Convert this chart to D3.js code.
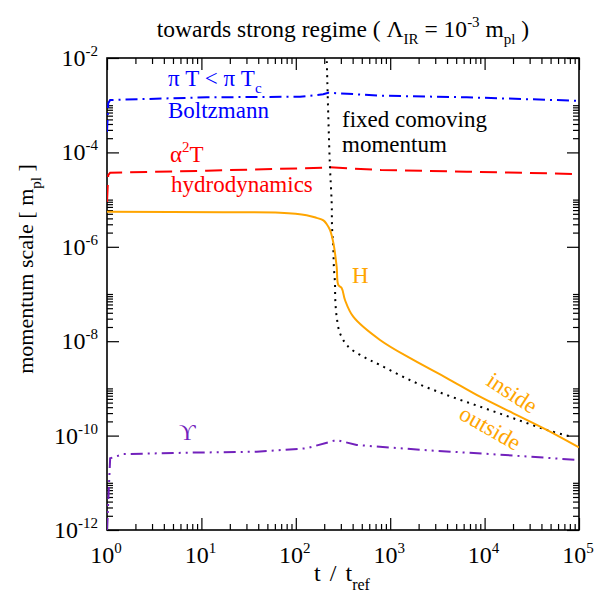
<!DOCTYPE html>
<html>
<head>
<meta charset="utf-8">
<script src="https://cdn.jsdelivr.net/npm/d3@7/dist/d3.min.js"></script>
<style>
  body { margin: 0; background: #fff; }
</style>
</head>
<body>
<div id="chart"></div>
<script>
// t / t_ref sample points and momentum scales (m_pl)
const tBoltz = [1, 1.03, 1.08, 11.4, 111, 195, 221, 800, 6460, 32800, 100000];
const vBoltz = [2.7e-4, 1.1e-3, 1.29e-3, 1.47e-3, 1.51e-3, 1.70e-3, 1.84e-3, 1.59e-3, 1.47e-3, 1.33e-3, 1.24e-3];

const tHydro = [1, 1.03, 1.08, 11.4, 195, 230, 800, 6460, 100000];
const vHydro = [8.9e-6, 3.3e-5, 3.72e-5, 4.09e-5, 4.74e-5, 4.83e-5, 4.24e-5, 3.90e-5, 3.48e-5];

const tHubble = [1, 17, 68, 130, 166, 196, 212, 230, 250, 271, 282, 306, 332, 406, 780, 1758, 3970, 8940, 20140, 45500, 100000];
const vHubble = [5.55e-6, 5.38e-6, 5.27e-6, 4.68e-6, 4.10e-6, 3.62e-6, 3.04e-6, 2.27e-6, 1.21e-6, 3.78e-7, 1.55e-7, 1.34e-7, 7.46e-8, 3.30e-8, 1.06e-8, 4.00e-9, 1.66e-9, 6.67e-10, 2.97e-10, 1.32e-10, 5.6e-11];

const tComoving = [212, 221, 230, 240, 242, 250, 253, 260, 262, 271, 294, 360, 519, 780, 1758, 3970, 8940, 20140, 45500, 87100];
const vComoving = [1.2e-2, 5.70e-4, 4.98e-5, 8.36e-6, 2.67e-6, 8.55e-7, 3.78e-7, 1.69e-7, 7.46e-8, 3.30e-8, 1.47e-8, 7.64e-9, 4.70e-9, 3.13e-9, 1.39e-9, 7.24e-10, 4.11e-10, 2.33e-10, 1.32e-10, 9.20e-11];

const tUpsilon = [1, 1.08, 1.49, 7.57, 38.5, 130, 271, 442, 2240, 11400, 100000];
const vUpsilon = [1e-12, 3.30e-11, 4.07e-11, 4.35e-11, 4.56e-11, 5.38e-11, 8.07e-11, 6.32e-11, 4.95e-11, 4.07e-11, 3.04e-11];

const xMajor = [1, 10, 100, 1000, 10000, 100000];
const xExp = ["0", "1", "2", "3", "4", "5"];
const yMajor = [1e-2, 1e-4, 1e-6, 1e-8, 1e-10, 1e-12];
const yExp = ["-2", "-4", "-6", "-8", "-10", "-12"];

const W = 609, H = 604;
const m = {l: 107, r: 30, t: 58, b: 74};
const serif = "'Liberation Serif', Times, 'Times New Roman', serif";

const svg = d3.select("#chart").append("svg")
    .attr("width", W).attr("height", H)
    .style("font-family", serif);

const x = d3.scaleLog().domain([1, 1e5]).range([m.l, W - m.r]);
const y = d3.scaleLog().domain([1e-12, 1e-2]).range([H - m.b, m.t]);

// minor ticks: 2..9 per decade on x, 2..10 times each labelled power on y
const xMinor = [];
xMajor.slice(0, -1).forEach(d => { for (let k = 2; k < 10; k++) xMinor.push(d * k); });
const yMinor = [];
yMajor.slice(1).forEach(d => { for (let k = 2; k <= 10; k++) yMinor.push(d * k); });

svg.append("defs").append("clipPath").attr("id", "clip")
  .append("rect").attr("x", m.l).attr("y", m.t)
  .attr("width", W - m.l - m.r).attr("height", H - m.t - m.b);

function ticks(axisFn, scale, vals, size, tr) {
  const g = svg.append("g").attr("transform", tr)
    .call(axisFn(scale).tickValues(vals).tickSize(-size).tickSizeOuter(0).tickFormat(""));
  g.select(".domain").remove();
  g.selectAll(".tick line").attr("stroke", "#000").attr("stroke-width", 1.2);
}
ticks(d3.axisBottom, x, xMajor, 12, `translate(0,${H - m.b})`);
ticks(d3.axisBottom, x, xMinor, 6, `translate(0,${H - m.b})`);
ticks(d3.axisTop, x, xMajor, 12, `translate(0,${m.t})`);
ticks(d3.axisTop, x, xMinor, 6, `translate(0,${m.t})`);
ticks(d3.axisLeft, y, yMajor, 12, `translate(${m.l},0)`);
ticks(d3.axisLeft, y, yMinor, 6, `translate(${m.l},0)`);
ticks(d3.axisRight, y, yMajor, 12, `translate(${W - m.r},0)`);
ticks(d3.axisRight, y, yMinor, 6, `translate(${W - m.r},0)`);

svg.append("rect").attr("x", m.l).attr("y", m.t)
  .attr("width", W - m.l - m.r).attr("height", H - m.t - m.b)
  .attr("fill", "none").attr("stroke", "#000").attr("stroke-width", 1.6);

// tick labels with superscript exponents
xMajor.forEach((d, i) => {
  const t = svg.append("text").attr("x", x(d) - 1).attr("y", 563)
    .attr("text-anchor", "middle").attr("font-size", 24);
  t.append("tspan").text("10");
  t.append("tspan").attr("dy", -10).attr("font-size", 15).text(xExp[i]);
});
yMajor.forEach((d, i) => {
  const t = svg.append("text").attr("x", 98).attr("y", y(d) + 8)
    .attr("text-anchor", "end").attr("font-size", 24);
  t.append("tspan").text("10");
  t.append("tspan").attr("dy", -10).attr("font-size", 15).text(yExp[i]);
});

// axis titles
const xt = svg.append("text").attr("x", 342).attr("y", 581)
  .attr("text-anchor", "middle").attr("font-size", 24)
  .attr("word-spacing", 3);
xt.append("tspan").text("t / t");
xt.append("tspan").attr("dy", 9).attr("font-size", 16).text("ref");

const yt = svg.append("text").attr("transform", "translate(33,269) rotate(-90)")
  .attr("text-anchor", "middle").attr("font-size", 22);
yt.append("tspan").text("momentum scale [ m");
yt.append("tspan").attr("dy", 8).attr("font-size", 15).text("pl");
yt.append("tspan").attr("dy", -8).text(" ]");

const tt = svg.append("text").attr("x", 343).attr("y", 37)
  .attr("text-anchor", "middle").attr("font-size", 23.5);
tt.append("tspan").text("towards strong regime ( \u039B");
tt.append("tspan").attr("dy", 7).attr("font-size", 15).text("IR");
tt.append("tspan").attr("dy", -7).text(" = 10");
tt.append("tspan").attr("dy", -10).attr("font-size", 15).text("-3");
tt.append("tspan").attr("dy", 10).text(" m");
tt.append("tspan").attr("dy", 7).attr("font-size", 15).text("pl");
tt.append("tspan").attr("dy", -7).text(" )");

// curves
const plot = svg.append("g").attr("clip-path", "url(#clip)");
const lineLin = d3.line().x(d => x(d[0])).y(d => y(d[1]));
const lineSmooth = d3.line().x(d => x(d[0])).y(d => y(d[1])).curve(d3.curveCatmullRom.alpha(0.5));

const series = [
  {t: tBoltz, v: vBoltz, color: "#0000ff", dash: "12,5,2,5", gen: lineLin},
  {t: tHydro, v: vHydro, color: "#ff0000", dash: "17,8", gen: lineLin},
  {t: tUpsilon, v: vUpsilon, color: "#7221bc", dash: "12,5,2,5,2,5", gen: lineLin},
  {t: tComoving, v: vComoving, color: "#000", dash: "2,5", gen: lineSmooth},
  {t: tHubble, v: vHubble, color: "#ffa500", dash: null, gen: lineSmooth}
];
series.forEach(s => {
  plot.append("path").datum(d3.zip(s.t, s.v))
    .attr("d", s.gen)
    .attr("fill", "none")
    .attr("stroke", s.color)
    .attr("stroke-width", 2)
    .attr("stroke-dasharray", s.dash);
});

// in-plot annotations
const lbl = (xp, yp, color, txt) => svg.append("text").attr("x", xp).attr("y", yp)
  .attr("fill", color).attr("font-size", 23).text(txt);

const pt = lbl(168, 86, "#0000ff", "\u03C0 T < \u03C0 T");
pt.append("tspan").attr("dy", 7).attr("font-size", 15).text("c");
lbl(168, 118, "#0000ff", "Boltzmann");
const al = lbl(170, 162, "#ff0000", "\u03B1");
al.append("tspan").attr("dy", -10).attr("font-size", 15).text("2");
al.append("tspan").attr("dy", 10).text("T");
lbl(171, 192, "#ff0000", "hydrodynamics");
lbl(342, 127, "#000", "fixed comoving");
lbl(342, 152, "#000", "momentum");
lbl(352, 283, "#ffa500", "H");
lbl(179, 440, "#7221bc", "\u03D2");

svg.append("text").attr("transform", "translate(512,393) rotate(33)")
  .attr("text-anchor", "middle").attr("dominant-baseline", "central")
  .attr("fill", "#ffa500").attr("font-size", 23).text("inside");
svg.append("text").attr("transform", "translate(490,428) rotate(30)")
  .attr("text-anchor", "middle").attr("dominant-baseline", "central")
  .attr("fill", "#ffa500").attr("font-size", 23).text("outside");
</script>
</body>
</html>
